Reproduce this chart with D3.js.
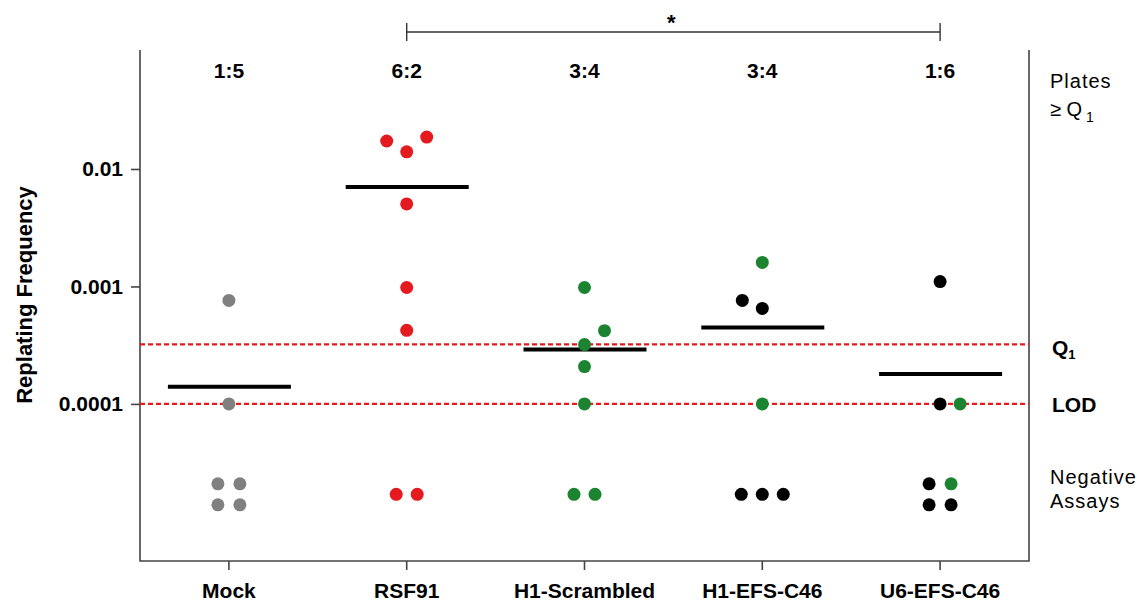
<!DOCTYPE html>
<html>
<head>
<meta charset="utf-8">
<script src="https://cdnjs.cloudflare.com/ajax/libs/d3/7.8.5/d3.min.js"></script>
<style>
  body { margin: 0; background: #fff; }
  text { font-family: "Liberation Sans", Arial, sans-serif; }
</style>
</head>
<body>
<svg id="chart" width="1147" height="607"></svg>
<script>
// groups along x
var groups = ["Mock", "RSF91", "H1-Scrambled", "H1-EFS-C46", "U6-EFS-C46"];
var ratios = ["1:5", "6:2", "3:4", "3:4", "1:6"];
var yTicks = [0.01, 0.001, 0.0001];

// positive assays per group: [value, colour, offset slot]
var mockPts = [[7.6e-4, "gray", 0], [1e-4, "gray", 0]];
var rsfPts = [[0.0173, "red", -1], [0.0140, "red", 0], [0.0187, "red", 1], [0.00504, "red", 0], [9.8e-4, "red", 0], [4.23e-4, "red", 0]];
var scrPts = [[9.8e-4, "green", 0], [4.2e-4, "green", 1], [3.2e-4, "green", 0], [2.08e-4, "green", 0], [1e-4, "green", 0]];
var h1Pts = [[1.6e-3, "green", 0], [7.6e-4, "black", -1], [6.5e-4, "black", 0], [1e-4, "green", 0]];
var u6Pts = [[1.1e-3, "black", 0], [1e-4, "black", 0], [1e-4, "green", 1]];
var points = [mockPts, rsfPts, scrPts, h1Pts, u6Pts];

// geometric means
var means = [1.4e-4, 0.00703, 2.91e-4, 4.48e-4, 1.8e-4];

// negative assays per group (colours)
var negatives = [
  ["gray", "gray", "gray", "gray"],
  ["red", "red"],
  ["green", "green"],
  ["black", "black", "black"],
  ["black", "green", "black", "black"]
];

var Q1 = 3.21e-4;
var LOD = 1e-4;
var NEG_LEVEL = 1.7e-5;

var colours = { gray: "#808080", red: "#e41a1f", green: "#1c8431", black: "#000" };

var svg = d3.select("#chart");
var mLeft = 140, mRight = 1029, mTop = 50, mBottom = 561;

var x = d3.scaleBand().domain(groups).range([mLeft, mRight]);
var y = d3.scaleLog().domain([4.6e-6, 0.103]).range([mBottom, mTop]);
var cx = function (g) { return x(g) + x.bandwidth() / 2; };

// frame: left, bottom, right
svg.append("path")
  .attr("d", "M" + mLeft + "," + mTop + "V" + mBottom + "H" + mRight + "V" + mTop)
  .attr("fill", "none").attr("stroke", "#444").attr("stroke-width", 1.6);

// y axis ticks
var yAxis = svg.append("g").attr("transform", "translate(" + mLeft + ",0)")
  .call(d3.axisLeft(y).tickValues(yTicks).tickSize(9).tickPadding(8)
    .tickFormat(function (d) { return String(d); }));
yAxis.select(".domain").remove();
yAxis.selectAll("line").attr("stroke", "#444").attr("stroke-width", 1.6);
yAxis.selectAll("text").attr("font-size", 21).attr("font-weight", "bold").attr("fill", "#000")
  .attr("font-family", "Liberation Sans, Arial, sans-serif");

// x axis ticks
var xAxis = svg.append("g").attr("transform", "translate(0," + mBottom + ")")
  .call(d3.axisBottom(x).tickSize(9).tickPadding(13));
xAxis.select(".domain").remove();
xAxis.selectAll("line").attr("stroke", "#444").attr("stroke-width", 1.6);
xAxis.selectAll("text").attr("font-size", 21).attr("font-weight", "bold").attr("fill", "#000")
  .attr("font-family", "Liberation Sans, Arial, sans-serif");

// y title
svg.append("text")
  .attr("transform", "translate(32,295) rotate(-90)")
  .attr("text-anchor", "middle").attr("font-size", 22).attr("font-weight", "bold")
  .text("Replating Frequency");

// threshold lines
[Q1, LOD].forEach(function (v) {
  svg.append("line")
    .attr("x1", mLeft).attr("x2", mRight).attr("y1", y(v)).attr("y2", y(v))
    .attr("stroke", "#e41a1f").attr("stroke-width", 2.2).attr("stroke-dasharray", "5,3");
});

// mean bars
svg.selectAll(".mean").data(means).enter().append("line")
  .attr("class", "mean")
  .attr("x1", function (d, i) { return cx(groups[i]) - 61; })
  .attr("x2", function (d, i) { return cx(groups[i]) + 62; })
  .attr("y1", function (d) { return y(d); })
  .attr("y2", function (d) { return y(d); })
  .attr("stroke", "#000").attr("stroke-width", 4);

// positive points
var flat = [];
points.forEach(function (arr, i) {
  arr.forEach(function (p) { flat.push({ g: groups[i], v: p[0], c: p[1], s: p[2] }); });
});
svg.selectAll(".pt").data(flat).enter().append("circle")
  .attr("class", "pt")
  .attr("cx", function (d) { return cx(d.g) + d.s * 20; })
  .attr("cy", function (d) { return y(d.v); })
  .attr("r", 6.5)
  .attr("fill", function (d) { return colours[d.c]; });

// negative assays
var negFlat = [];
negatives.forEach(function (arr, i) {
  var n = arr.length;
  arr.forEach(function (c, k) {
    var dx, dy;
    if (n === 4) { dx = (k % 2 === 0 ? -11 : 11); dy = (k < 2 ? -10.5 : 10.5); }
    else { dx = (k - (n - 1) / 2) * 21; dy = 0; }
    negFlat.push({ g: groups[i], c: c, dx: dx, dy: dy });
  });
});
svg.selectAll(".neg").data(negFlat).enter().append("circle")
  .attr("class", "neg")
  .attr("cx", function (d) { return cx(d.g) + d.dx; })
  .attr("cy", function (d) { return y(NEG_LEVEL) + d.dy; })
  .attr("r", 6.5)
  .attr("fill", function (d) { return colours[d.c]; });

// ratio labels on top
svg.selectAll(".ratio").data(ratios).enter().append("text")
  .attr("x", function (d, i) { return cx(groups[i]); })
  .attr("y", 78)
  .attr("text-anchor", "middle").attr("font-size", 21).attr("font-weight", "bold")
  .text(function (d) { return d; });

// significance bracket RSF91 vs U6-EFS-C46
var bx1 = cx("RSF91"), bx2 = cx("U6-EFS-C46");
svg.append("path")
  .attr("d", "M" + bx1 + ",23V41M" + bx1 + ",32H" + bx2 + "M" + bx2 + ",23V41")
  .attr("fill", "none").attr("stroke", "#333").attr("stroke-width", 1.4);
svg.append("text").attr("x", (bx1 + bx2) / 2 - 2).attr("y", 30)
  .attr("text-anchor", "middle").attr("font-size", 22).attr("font-weight", "bold").text("*");

// right side labels
var rx = 1050;
svg.append("text").attr("x", rx).attr("y", 88).attr("font-size", 20).attr("letter-spacing", 1).text("Plates");
var q1t = svg.append("text").attr("x", rx).attr("y", 116).attr("font-size", 20);
q1t.append("tspan").text("\u2265 Q");
q1t.append("tspan").attr("dy", 6).attr("font-size", 14).text(" 1");

var q1b = svg.append("text").attr("x", rx + 2).attr("y", y(Q1) + 11).attr("font-size", 21).attr("font-weight", "bold");
q1b.append("tspan").text("Q");
q1b.append("tspan").attr("dy", 4).attr("font-size", 13).text("1");

svg.append("text").attr("x", rx + 2).attr("y", y(LOD) + 8).attr("font-size", 21).attr("font-weight", "bold").text("LOD");

svg.append("text").attr("x", rx).attr("y", 484).attr("font-size", 20).attr("letter-spacing", 1).text("Negative");
svg.append("text").attr("x", rx).attr("y", 508).attr("font-size", 20).attr("letter-spacing", 1).text("Assays");
</script>
</body>
</html>
